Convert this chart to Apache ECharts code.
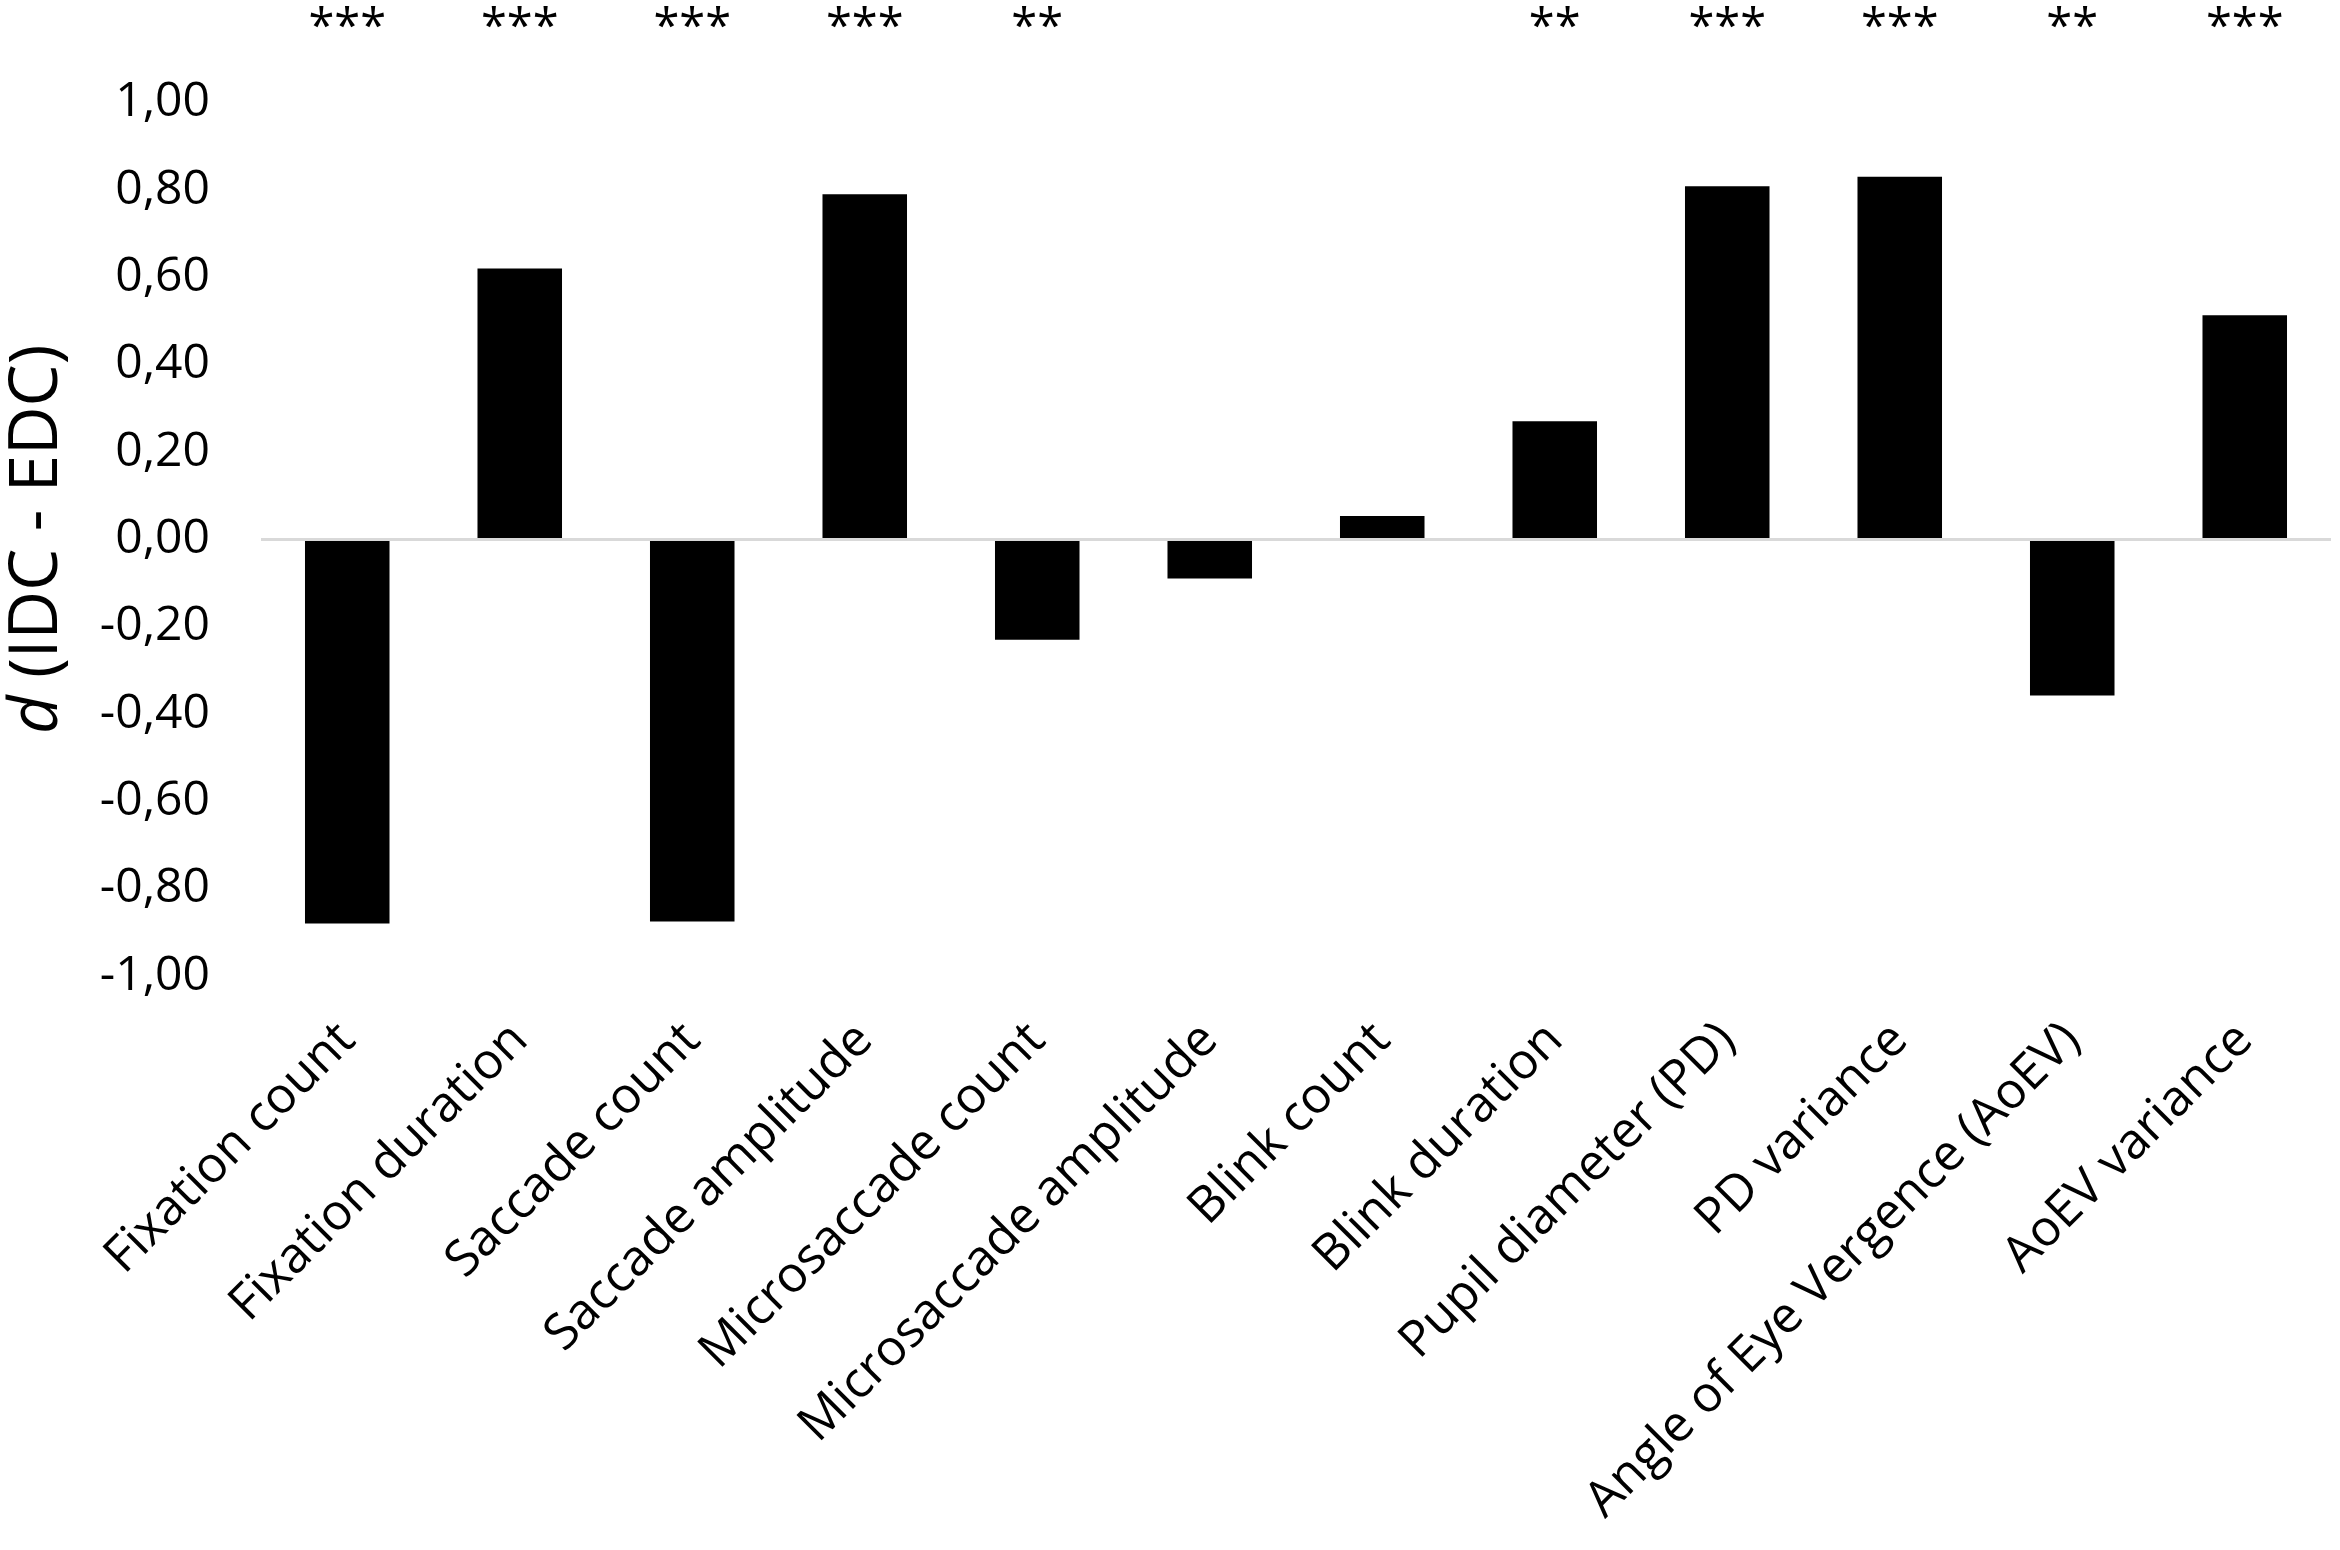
<!DOCTYPE html>
<html><head><meta charset="utf-8">
<script src="https://cdn.jsdelivr.net/npm/echarts@6/dist/echarts.min.js"></script>
<style>html,body{margin:0;padding:0;background:#fff}#c{width:2340px;height:1550px}</style>
</head><body><div id="c"></div>
<script>
const categories = ['Fixation count','Fixation duration','Saccade count','Saccade amplitude','Microsaccade count','Microsaccade amplitude','Blink count','Blink duration','Pupil diameter (PD)','PD variance','Angle of Eye Vergence (AoEV)','AoEV variance'];
const effectSizes = [-0.88, 0.62, -0.875, 0.79, -0.23, -0.09, 0.053, 0.27, 0.808, 0.83, -0.358, 0.513];
const significance = ['***','***','***','***','**','','','**','***','***','**','***'];
const yMin = -1, yMax = 1, yStep = 0.2;

const chart = echarts.init(document.getElementById('c'), null, {renderer:'canvas'});
chart.setOption({
  animation:false,
  backgroundColor:'#fff',
  textStyle:{fontFamily:'Open Sans'},
  grid:{left:261, right:9, top:102.5, bottom:574, containLabel:false, outerBoundsMode:'none'},
  xAxis:[{
    type:'category', data:categories, position:'bottom',
    axisLine:{show:false}, axisTick:{show:false}, splitLine:{show:false},
    axisLabel:{interval:0, rotate:45, margin:56, padding:[80,0,0,0], fontSize:50, color:'#000', fontFamily:'Open Sans'}
  },{
    type:'category', data:significance, position:'top',
    axisLine:{show:false}, axisTick:{show:false}, splitLine:{show:false},
    axisLabel:{interval:0, margin:50, fontSize:47, color:'#000', fontFamily:'Open Sans'}
  }],
  yAxis:{
    type:'value', min:yMin, max:yMax, interval:yStep,
    axisLine:{show:false}, axisTick:{show:false}, splitLine:{show:false},
    axisLabel:{margin:51, fontSize:48, color:'#000', fontFamily:'Open Sans',
      formatter:v => (Math.abs(v)<1e-9?0:v).toFixed(2).replace('.', ',')},
    name:'{i|d} (IDC - EDC)', nameLocation:'middle', nameGap:190,
    nameTextStyle:{fontSize:67, color:'#000', fontFamily:'Open Sans', rich:{i:{fontSize:67, fontStyle:'italic', color:'#000', fontFamily:'Open Sans'}}}
  },
  series:[{
    type:'bar', xAxisIndex:0, data:effectSizes, barWidth:'49%',
    itemStyle:{color:'#000'},
    markLine:{silent:true, symbol:'none', label:{show:false}, z:10,
      lineStyle:{color:'#d9d9d9', width:3, type:'solid'}, data:[{yAxis:0}]}
  }]
});
</script></body></html>
